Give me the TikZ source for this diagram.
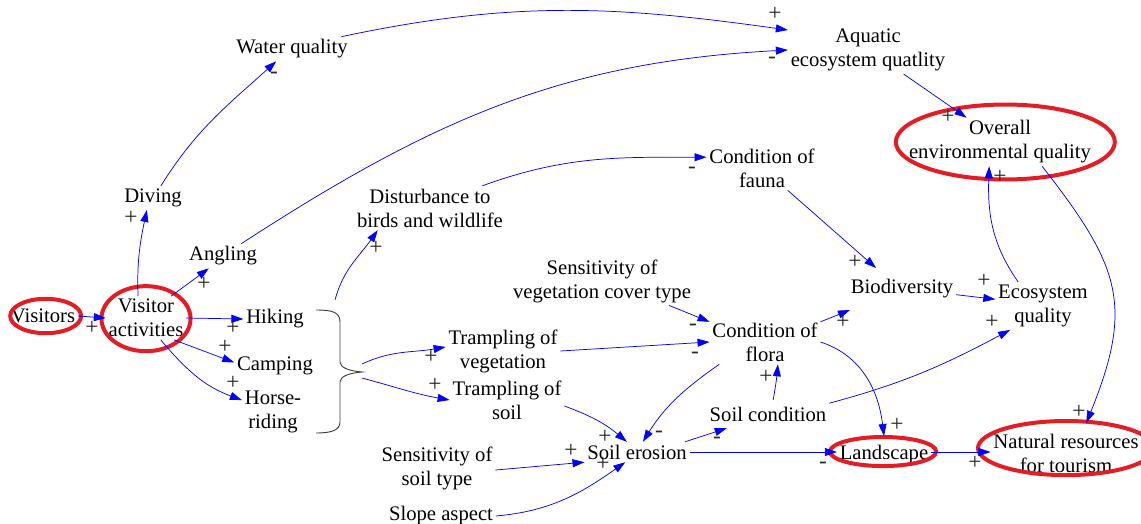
\documentclass[tikz,border=0pt]{standalone}
\usepackage{fontspec}
\setmainfont{Liberation Serif}
\usetikzlibrary{arrows.meta}
\definecolor{ringred}{RGB}{228,28,36}
\begin{document}
\begin{tikzpicture}[x=0.75pt,y=-0.75pt,
  every node/.style={font=\fontsize{15.5}{18}\selectfont, inner sep=2pt, align=center},
  sign/.style={inner sep=0pt, text=black!85, font=\fontsize{17.5}{18}\selectfont},
  link/.style={draw=blue, line width=0.55pt, -{Triangle[length=9pt,width=6pt]}},
  ring/.style={draw=ringred, line width=3pt},
  bracepen/.style={draw=black!75, line width=0.7pt}]
\useasboundingbox (0,0) rectangle (1141,524);
\clip (0,0) rectangle (1141,524);

% variables
\node (vis)   at (43,316)   {Visitors};
\node (act)   at (146,318)  {Visitor\\activities};
\node (div)   at (153,198)  {Diving};
\node (wq)    at (292,49)   {Water quality};
\node (ang)   at (223,256)  {Angling};
\node (hik)   at (275,319)  {Hiking};
\node (camp)  at (275,366)  {Camping};
\node (horse) at (273,412)  {Horse-\\riding};
\node (dist)  at (430,208)  {Disturbance to\\birds and wildlife};
\node (aq)    at (868,50)   {Aquatic\\ecosystem quatlity};
\node (ovr)   at (1000,142) {Overall\\environmental quality};
\node (fauna) at (762,168)  {Condition of\\fauna};
\node (sveg)  at (602,281)  {Sensitivity of\\vegetation cover type};
\node (tveg)  at (503,351)  {Trampling of\\vegetation};
\node (tsoil) at (507,400)  {Trampling of\\soil};
\node (flora) at (765,342)  {Condition of\\flora};
\node[inner ysep=8.5pt] (bio) at (902,289) {Biodiversity};
\node (eco)   at (1043,306) {Ecosystem\\quality};
\node[inner ysep=5pt] (scond) at (768,414) {Soil condition};
\node (eros)  at (637,452)  {Soil erosion};
\node[inner ysep=7pt] (land) at (884,455) {Landscape};
\node[inner ysep=8pt] (nat) at (1066,453) {Natural resources\\for tourism};
\node (ssoil) at (437,468)  {Sensitivity of\\soil type};
\node (slope) at (441,516)  {Slope aspect};

% highlighted variables
\draw[ring] ([xshift=2pt]vis.center) ellipse [x radius=26.6pt, y radius=12.9pt];
\draw[ring] ([yshift=-0.5pt]act.center) ellipse [x radius=33.4pt, y radius=24.4pt];
\draw[ring] ([xshift=4pt]ovr.center) ellipse [x radius=82.1pt, y radius=28.1pt];
\draw[ring] ([xshift=-0.7pt,yshift=2.6pt]land.center) ellipse [x radius=39.8pt, y radius=10.9pt];
\draw[ring] ([yshift=3.7pt]nat.center) ellipse [x radius=66pt, y radius=20.3pt];

% brace grouping the land-based activities
\draw[bracepen] (316,310) .. controls (332,310) and (340,312) .. (340,322)
  -- (340,362) .. controls (340,368) and (350,371) .. (362,372)
  .. controls (350,373) and (340,376) .. (340,382)
  -- (340,422) .. controls (340,430) and (332,433) .. (316,433);
\coordinate (grpup) at (335,300);
\coordinate (grpA) at (362,364);
\coordinate (grpB) at (362,378);

% causal links
\draw[link] (vis.east) -- (act.west);
\draw[link] (act.110) to[out=92,in=258] (div.243);
\draw[link] (div.57) to[out=58,in=222] (wq.218);
\draw[link] (wq.14) to[out=12,in=172] (aq.166);
\draw[link] (ang.34) to[out=33,in=183] (aq.west);
\draw[link] (act.41) -- (ang.221);
\draw[link] (act.east) -- (hik.west);
\draw[link] (act.322) -- (camp.175);
\draw[link] (act.304) to[out=-50,in=160] (horse.159);
\draw[link] (grpup) to[out=75,in=235] (dist.203);
\draw[link] (dist.23) to[out=20,in=180] (fauna.169);
\draw[link] (grpA) to[out=25,in=190] (tveg.176);
\draw[link] (grpB) to[out=-15,in=170] (tsoil.west);
\draw[link] (sveg.340) -- (flora.160);
\draw[link] (tveg.east) -- (flora.west);
\draw[link] (fauna.319) -- (bio.141);
\draw[link] (flora.20) -- (bio.202);
\draw[link] (bio.354) -- (eco.172);
\draw[link] (scond.10) to[out=15,in=208] (eco.216);
\draw[link] (eco.136) to[out=125,in=268] (ovr.246);
\draw[link] (aq.326) -- (ovr.144);
\draw[link] (ovr.330) to[out=-52,in=68,looseness=1.25] (nat.56);
\draw[link] (flora.east) to[out=-18,in=97] (land.north);
\draw[link] (eros.east) -- (eros.east -| land.west);
\draw[link] (eros.east -| land.east) -- (eros.east -| nat.west);
\draw[link] (scond.70) to[out=80,in=265] (flora.300);
\draw[link] (eros.12) -- (scond.199);
\draw[link] (flora.206) to[out=215,in=58] (eros.60);
\draw[link] (tsoil.354) to[out=-20,in=140] (eros.135);
\draw[link] (ssoil.358) -- (eros.191);
\draw[link] (slope.east) to[out=5,in=215] (eros.221);

% link polarities
\node[sign] (p1)  at (92,328)   {+};
\node[sign] (p2)  at (131,218)  {+};
\node[sign] (p3)  at (274,75)   {-};
\node[sign] (p4)  at (775,14)   {+};
\node[sign] (p5)  at (772,60)   {-};
\node[sign] (p6)  at (204,284)  {+};
\node[sign] (p7)  at (233,328)  {+};
\node[sign] (p8)  at (225,347)  {+};
\node[sign] (p9)  at (233,383)  {+};
\node[sign] (p10) at (376,248)  {+};
\node[sign] (p11) at (692,170)  {-};
\node[sign] (p12) at (431,357)  {+};
\node[sign] (p13) at (435,385)  {+};
\node[sign] (p14) at (693,327)  {-};
\node[sign] (p15) at (695,355)  {-};
\node[sign] (p16) at (855,262)  {+};
\node[sign] (p17) at (843,322)  {+};
\node[sign] (p18) at (984,281)  {+};
\node[sign] (p19) at (992,322)  {+};
\node[sign] (p20) at (1000,177) {+};
\node[sign] (p21) at (948,117)  {+};
\node[sign] (p22) at (1079,412) {+};
\node[sign] (p23) at (897,425)  {+};
\node[sign] (p24) at (823,465)  {-};
\node[sign] (p25) at (975,463)  {+};
\node[sign] (p26) at (766,377)  {+};
\node[sign] (p27) at (717,440)  {-};
\node[sign] (p28) at (659,434)  {-};
\node[sign] (p29) at (605,437)  {+};
\node[sign] (p30) at (571,451)  {+};
\node[sign] (p31) at (603,464)  {+};
\end{tikzpicture}
\end{document}
